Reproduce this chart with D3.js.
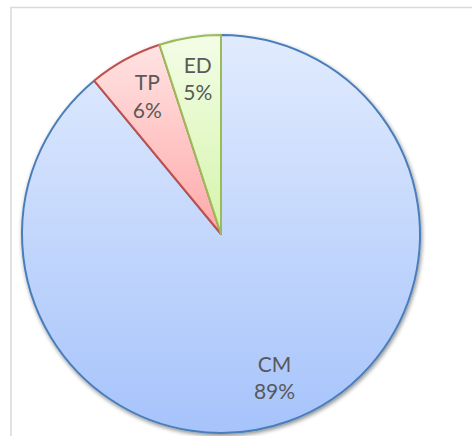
<!DOCTYPE html>
<html>
<head>
<meta charset="utf-8">
<script src="https://cdn.jsdelivr.net/npm/d3@7"></script>
<style>
  body { margin: 0; background: #fff; }
  svg { display: block; }
  text { font-family: Lato, "Open Sans", sans-serif; }
</style>
</head>
<body>
<svg id="chart" width="472" height="436"></svg>
<script>
// chart data
var categories = ["CM", "TP", "ED"];
var values = [89, 6, 5];
var fillTop = ["#e1ebfd", "#ffe3e3", "#f3fde6"];
var fillBottom = ["#a6c3fb", "#ffa9a9", "#d5f4ab"];
var strokes = ["#4a7ebb", "#c0504d", "#9bbb59"];

var width = 472, height = 436;
var cx = 221, cy = 234, radius = 199;

var svg = d3.select("#chart");

// chart area border
svg.append("rect")
  .attr("x", 11).attr("y", 7.5)
  .attr("width", 480).attr("height", 450)
  .attr("fill", "none")
  .attr("stroke", "#d9d9d9")
  .attr("stroke-width", 1.5);

var defs = svg.append("defs");

// soft shadow under the pie
var shadow = defs.append("filter").attr("id", "shadow")
  .attr("x", "-10%").attr("y", "-10%").attr("width", "120%").attr("height", "120%");
shadow.append("feGaussianBlur").attr("in", "SourceAlpha").attr("stdDeviation", 2).attr("result", "blur");
shadow.append("feOffset").attr("in", "blur").attr("dx", 1).attr("dy", 2).attr("result", "off");
shadow.append("feComponentTransfer").attr("in", "off").attr("result", "soft")
  .append("feFuncA").attr("type", "linear").attr("slope", 0.45);
var merge = shadow.append("feMerge");
merge.append("feMergeNode").attr("in", "soft");
merge.append("feMergeNode").attr("in", "SourceGraphic");

categories.forEach(function(c, i) {
  var g = defs.append("linearGradient").attr("id", "grad" + i)
    .attr("x1", 0).attr("y1", 0).attr("x2", 0).attr("y2", 1);
  g.append("stop").attr("offset", "0%").attr("stop-color", fillTop[i]);
  g.append("stop").attr("offset", "100%").attr("stop-color", fillBottom[i]);
});

var pie = d3.pie().sort(null).value(function(d) { return d; });
var arcs = pie(values);

var arc = d3.arc().innerRadius(0).outerRadius(radius);
var labelArc = d3.arc().innerRadius(155).outerRadius(155);

var g = svg.append("g").attr("transform", "translate(" + cx + "," + cy + ")");

g.append("g").attr("filter", "url(#shadow)")
  .selectAll("path")
  .data(arcs)
  .enter().append("path")
  .attr("d", arc)
  .attr("fill", function(d, i) { return "url(#grad" + i + ")"; })
  .attr("stroke", function(d, i) { return strokes[i]; })
  .attr("stroke-width", 2)
  .attr("stroke-linejoin", "round");

var total = d3.sum(values);
var labels = g.selectAll(".lbl")
  .data(arcs)
  .enter().append("text")
  .attr("class", "lbl")
  .attr("transform", function(d) {
    var p = labelArc.centroid(d);
    return "translate(" + (p[0] + 1) + "," + p[1] + ")";
  })
  .attr("text-anchor", "middle")
  .attr("fill", "#595959")
  .attr("font-size", 21);

labels.append("tspan")
  .attr("x", 0).attr("dy", "-0.38em")
  .text(function(d, i) { return categories[i]; });
labels.append("tspan")
  .attr("x", 0).attr("dy", "1.3em")
  .text(function(d) { return Math.round(d.value / total * 100) + "%"; });
</script>
</body>
</html>
